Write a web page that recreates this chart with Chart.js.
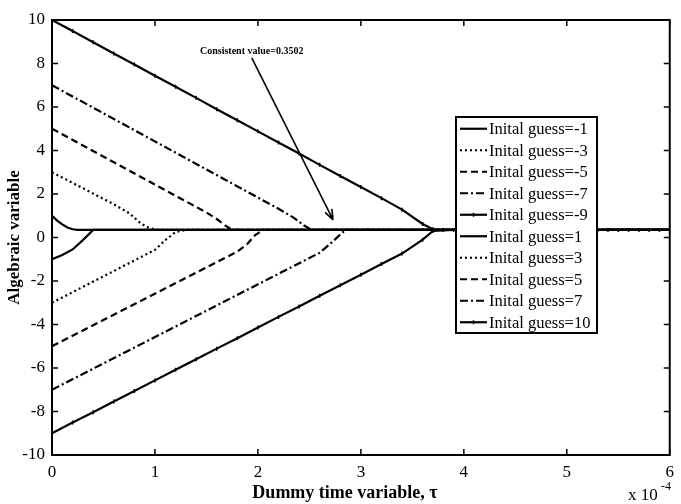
<!DOCTYPE html>
<html>
<head>
<meta charset="utf-8">
<script src="https://cdn.jsdelivr.net/npm/chart.js@4.4.1/dist/chart.umd.min.js"></script>
<style>
  html, body { margin: 0; padding: 0; background: #fff; }
</style>
</head>
<body>
<canvas id="chart" width="681" height="504"></canvas>
<script>
// valores (tau en unidades de 1e-4)
const guessLabels = [
  'Inital guess=-1', 'Inital guess=-3', 'Inital guess=-5', 'Inital guess=-7', 'Inital guess=-9',
  'Inital guess=1', 'Inital guess=3', 'Inital guess=5', 'Inital guess=7', 'Inital guess=10'
];

const tauNeg1 = [0, 0.1, 0.2, 0.3, 0.4, 6];
const valNeg1 = [-1, -0.8, -0.55, -0.12, 0.35, 0.35];

const tauNeg3 = [0, 1.0, 1.1, 1.2, 1.3, 6];
const valNeg3 = [-3, -0.57, -0.12, 0.25, 0.35, 0.35];

const tauNeg5 = [0, 1.8, 1.9, 1.97, 2.05, 6];
const valNeg5 = [-5, -0.65, -0.28, 0.1, 0.35, 0.35];

const tauNeg7 = [0, 2.6, 2.7, 2.78, 2.85, 6];
const valNeg7 = [-7, -0.7, -0.3, 0.05, 0.35, 0.35];

const tauNeg9 = [0, 0.2, 0.4, 0.6, 0.8, 1, 1.2, 1.4, 1.6, 1.8, 2, 2.2, 2.4, 2.6, 2.8, 3, 3.2, 3.4, 3.6, 3.7,
  3.9, 4.1, 4.3, 4.5, 4.7, 4.9, 5.1, 5.3, 5.5, 5.7, 5.9, 6];
const valNeg9 = [-9, -8.51, -8.03, -7.54, -7.06, -6.57, -6.08, -5.6, -5.11, -4.63, -4.14, -3.65, -3.17, -2.68, -2.2, -1.71, -1.22, -0.74, -0.1, 0.3,
  0.35, 0.35, 0.35, 0.35, 0.35, 0.35, 0.35, 0.35, 0.35, 0.35, 0.35, 0.35];

const tauPos1 = [0, 0.05, 0.1, 0.15, 0.2, 0.25, 6];
const valPos1 = [1, 0.78, 0.6, 0.46, 0.38, 0.35, 0.35];

const tauPos3 = [0, 0.6, 0.75, 0.85, 0.92, 1.0, 1.05, 6];
const valPos3 = [3, 1.53, 1.12, 0.7, 0.48, 0.37, 0.35, 0.35];

const tauPos5 = [0, 1.5, 1.6, 1.68, 1.75, 6];
const valPos5 = [5, 1.15, 0.85, 0.56, 0.35, 0.35];

const tauPos7 = [0, 2.2, 2.35, 2.45, 2.52, 6];
const valPos7 = [7, 1.32, 0.9, 0.55, 0.35, 0.35];

const tauPos10 = [0, 0.2, 0.4, 0.6, 0.8, 1, 1.2, 1.4, 1.6, 1.8, 2, 2.2, 2.4, 2.6, 2.8, 3, 3.2, 3.4, 3.6, 3.7,
  3.8, 4, 4.2, 4.4, 4.6, 4.8, 5, 5.2, 5.4, 5.6, 5.8, 6];
const valPos10 = [10, 9.49, 8.98, 8.46, 7.95, 7.44, 6.93, 6.42, 5.9, 5.39, 4.88, 4.37, 3.86, 3.34, 2.83, 2.32, 1.81, 1.28, 0.62, 0.38,
  0.35, 0.35, 0.35, 0.35, 0.35, 0.35, 0.35, 0.35, 0.35, 0.35, 0.35, 0.35];

const xTicks = [0, 1, 2, 3, 4, 5, 6];
const yTicks = [-10, -8, -6, -4, -2, 0, 2, 4, 6, 8, 10];
const consistentValue = 0.3502;

const allTau = [tauNeg1, tauNeg3, tauNeg5, tauNeg7, tauNeg9, tauPos1, tauPos3, tauPos5, tauPos7, tauPos10];
const allVal = [valNeg1, valNeg3, valNeg5, valNeg7, valNeg9, valPos1, valPos3, valPos5, valPos7, valPos10];

const SERIF = "'Liberation Serif', 'Times New Roman', serif";

// estilos de linea tipo matlab
const dashes = {
  solid: [],
  dotted: [2, 3],
  dashed: [7, 4],
  dashdot: [8, 3, 2, 3]
};
const lineStyles = ['solid', 'dotted', 'dashed', 'dashdot', 'marker'];

const datasets = guessLabels.map((label, i) => {
  const style = lineStyles[i % 5];
  const hasMarker = style === 'marker';
  return {
    label: label,
    data: allTau[i].map((t, k) => ({ x: t, y: allVal[i][k] })),
    borderColor: '#000',
    backgroundColor: '#000',
    borderWidth: 2.2,
    borderDash: hasMarker ? [] : dashes[style],
    pointStyle: 'line',
    pointRotation: 90,
    pointRadius: hasMarker ? 2 : 0,
    pointBorderWidth: 1.5,
    pointBorderColor: '#000',
    tension: 0,
    fill: false
  };
});

const matlabFrame = {
  id: 'matlabFrame',
  afterDatasetsDraw(chart) {
    const { ctx, chartArea: a, scales: { x, y } } = chart;
    ctx.save();

    // caja y ticks hacia adentro
    ctx.strokeStyle = '#000';
    ctx.lineWidth = 2;
    ctx.strokeRect(a.left, a.top, a.right - a.left, a.bottom - a.top);
    ctx.lineWidth = 1.5;
    ctx.beginPath();
    xTicks.forEach(v => {
      const px = x.getPixelForValue(v);
      ctx.moveTo(px, a.bottom); ctx.lineTo(px, a.bottom - 6);
      ctx.moveTo(px, a.top); ctx.lineTo(px, a.top + 6);
    });
    yTicks.forEach(v => {
      const py = y.getPixelForValue(v);
      ctx.moveTo(a.left, py); ctx.lineTo(a.left + 6, py);
      ctx.moveTo(a.right, py); ctx.lineTo(a.right - 6, py);
    });
    ctx.stroke();

    // anotacion con flecha
    const x0 = x.getPixelForValue(1.94), y0 = y.getPixelForValue(8.26);
    const x1 = x.getPixelForValue(2.73), y1 = y.getPixelForValue(0.81);
    ctx.lineWidth = 1.6;
    ctx.beginPath();
    ctx.moveTo(x0, y0);
    ctx.lineTo(x1, y1);
    const ang = Math.atan2(y1 - y0, x1 - x0);
    ctx.moveTo(x1, y1);
    ctx.lineTo(x1 - 11 * Math.cos(ang - 0.35), y1 - 11 * Math.sin(ang - 0.35));
    ctx.moveTo(x1, y1);
    ctx.lineTo(x1 - 11 * Math.cos(ang + 0.35), y1 - 11 * Math.sin(ang + 0.35));
    ctx.stroke();
    ctx.fillStyle = '#000';
    ctx.font = 'bold 10px ' + SERIF;
    ctx.textAlign = 'center';
    ctx.textBaseline = 'middle';
    ctx.fillText('Consistent value=' + consistentValue, x0, y0 - 6);

    // leyenda
    const lx = 456, ly = 117, lw = 141, rowH = 21.5;
    const lh = rowH * chart.data.datasets.length + 1;
    ctx.fillStyle = '#fff';
    ctx.fillRect(lx, ly, lw, lh);
    ctx.lineWidth = 2;
    ctx.strokeStyle = '#000';
    ctx.strokeRect(lx, ly, lw, lh);
    ctx.font = '16.5px ' + SERIF;
    ctx.textAlign = 'left';
    ctx.textBaseline = 'middle';
    chart.data.datasets.forEach((ds, i) => {
      const cy = ly + rowH / 2 + 1 + i * rowH;
      ctx.lineWidth = 2.2;
      ctx.setLineDash(ds.borderDash);
      ctx.beginPath();
      ctx.moveTo(lx + 4, cy);
      ctx.lineTo(lx + 31, cy);
      ctx.stroke();
      ctx.setLineDash([]);
      if (ds.pointRadius > 0) {
        ctx.lineWidth = 1.5;
        ctx.beginPath();
        ctx.moveTo(lx + 17.5, cy - 2);
        ctx.lineTo(lx + 17.5, cy + 2);
        ctx.stroke();
      }
      ctx.fillStyle = '#000';
      ctx.fillText(ds.label, lx + 33, cy + 1);
    });

    // titulos de ejes
    ctx.font = 'bold 18px ' + SERIF;
    ctx.textAlign = 'center';
    ctx.fillText('Dummy time variable, \u03c4', 345, 493);
    ctx.font = '17px ' + SERIF;
    ctx.textAlign = 'left';
    ctx.fillText('x 10', 628, 496);
    ctx.font = '12px ' + SERIF;
    ctx.fillText('-4', 661, 487);

    ctx.translate(15, (a.top + a.bottom) / 2);
    ctx.rotate(-Math.PI / 2);
    ctx.font = 'bold 17px ' + SERIF;
    ctx.textAlign = 'center';
    ctx.fillText('Algebraic variable', 0, 0);

    ctx.restore();
  }
};

new Chart(document.getElementById('chart').getContext('2d'), {
  type: 'line',
  data: { datasets: datasets },
  options: {
    responsive: false,
    animation: false,
    layout: { padding: { left: 0, right: 8, top: 20, bottom: 0 } },
    plugins: {
      legend: { display: false },
      tooltip: { enabled: false }
    },
    scales: {
      x: {
        type: 'linear',
        min: 0,
        max: 6,
        afterBuildTicks: (scale) => { scale.ticks = xTicks.map(v => ({ value: v })); },
        afterFit: (scale) => { scale.height = 49; },
        grid: { display: false, drawTicks: false },
        border: { display: false },
        ticks: { color: '#000', padding: 7, maxRotation: 0, font: { family: SERIF, size: 17 } }
      },
      y: {
        type: 'linear',
        min: -10,
        max: 10,
        afterBuildTicks: (scale) => { scale.ticks = yTicks.map(v => ({ value: v })); },
        afterFit: (scale) => { scale.width = 52; },
        grid: { display: false, drawTicks: false },
        border: { display: false },
        ticks: { color: '#000', padding: 7, font: { family: SERIF, size: 17 } }
      }
    }
  },
  plugins: [matlabFrame]
});
</script>
</body>
</html>
